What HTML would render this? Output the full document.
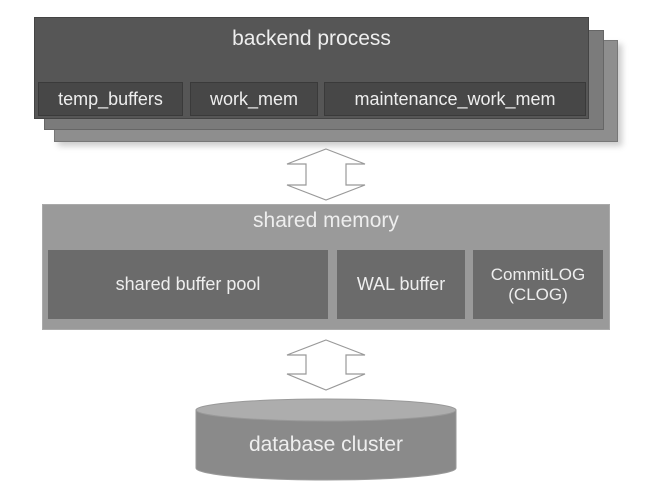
<!DOCTYPE html>
<html><head><meta charset="utf-8"><style>
body{margin:0;width:657px;height:503px;background:#fff;position:relative;overflow:hidden;font-family:"Liberation Sans",sans-serif;color:#eee}
.b{position:absolute;box-sizing:border-box}
.t{display:flex;align-items:center;justify-content:center;text-align:center}
</style></head><body>
<div class="b" style="left:54px;top:40px;width:564px;height:102px;background:#8e8e8e;border:1px solid #777;box-shadow:4px 4px 6px #ccc"></div>
<div class="b" style="left:44px;top:30px;width:560px;height:100px;background:#7b7b7b;border:1px solid #666"></div>
<div class="b" style="left:34px;top:17px;width:555px;height:102px;background:#565656;border:1px solid #444"></div>
<div class="b t" style="left:34px;top:24px;width:555px;height:30px;font-size:21px">backend process</div>
<div class="b t" style="left:38px;top:82px;width:145px;height:34px;background:#474747;border:1px solid #3a3a3a;font-size:18px">temp_buffers</div>
<div class="b t" style="left:190px;top:82px;width:128px;height:34px;background:#474747;border:1px solid #3a3a3a;font-size:18px">work_mem</div>
<div class="b t" style="left:324px;top:82px;width:262px;height:34px;background:#474747;border:1px solid #3a3a3a;font-size:18px">maintenance_work_mem</div>
<svg class="b" style="left:0;top:0" width="657" height="503">
<g fill="#fff" stroke="#999" stroke-width="1.2">
<polygon points="326,149 365,164 346,164 346,185 365,185 326,200 287,185 306,185 306,164 287,164"/>
<polygon points="326,340 365,355 346,355 346,374 365,374 326,390 287,374 306,374 306,355 287,355"/>
</g>
<path d="M196,410 L196,468 A130,12 0 0 0 456,468 L456,410 Z" fill="#8a8a8a" stroke="#999"/>
<ellipse cx="326" cy="410" rx="130" ry="11" fill="#adadad" stroke="#999"/>
</svg>
<div class="b" style="left:42px;top:204px;width:568px;height:126px;background:#9a9a9a;border:1px solid #aaa"></div>
<div class="b t" style="left:42px;top:206px;width:568px;height:30px;font-size:21px">shared memory</div>
<div class="b t" style="left:48px;top:250px;width:280px;height:69px;background:#6b6b6b;font-size:18px">shared buffer pool</div>
<div class="b t" style="left:337px;top:250px;width:128px;height:69px;background:#6b6b6b;font-size:18px">WAL buffer</div>
<div class="b t" style="left:473px;top:250px;width:130px;height:69px;background:#6b6b6b;font-size:17px;line-height:20px">CommitLOG<br>(CLOG)</div>
<div class="b t" style="left:196px;top:425px;width:260px;height:40px;font-size:21px">database cluster</div>
</body></html>
